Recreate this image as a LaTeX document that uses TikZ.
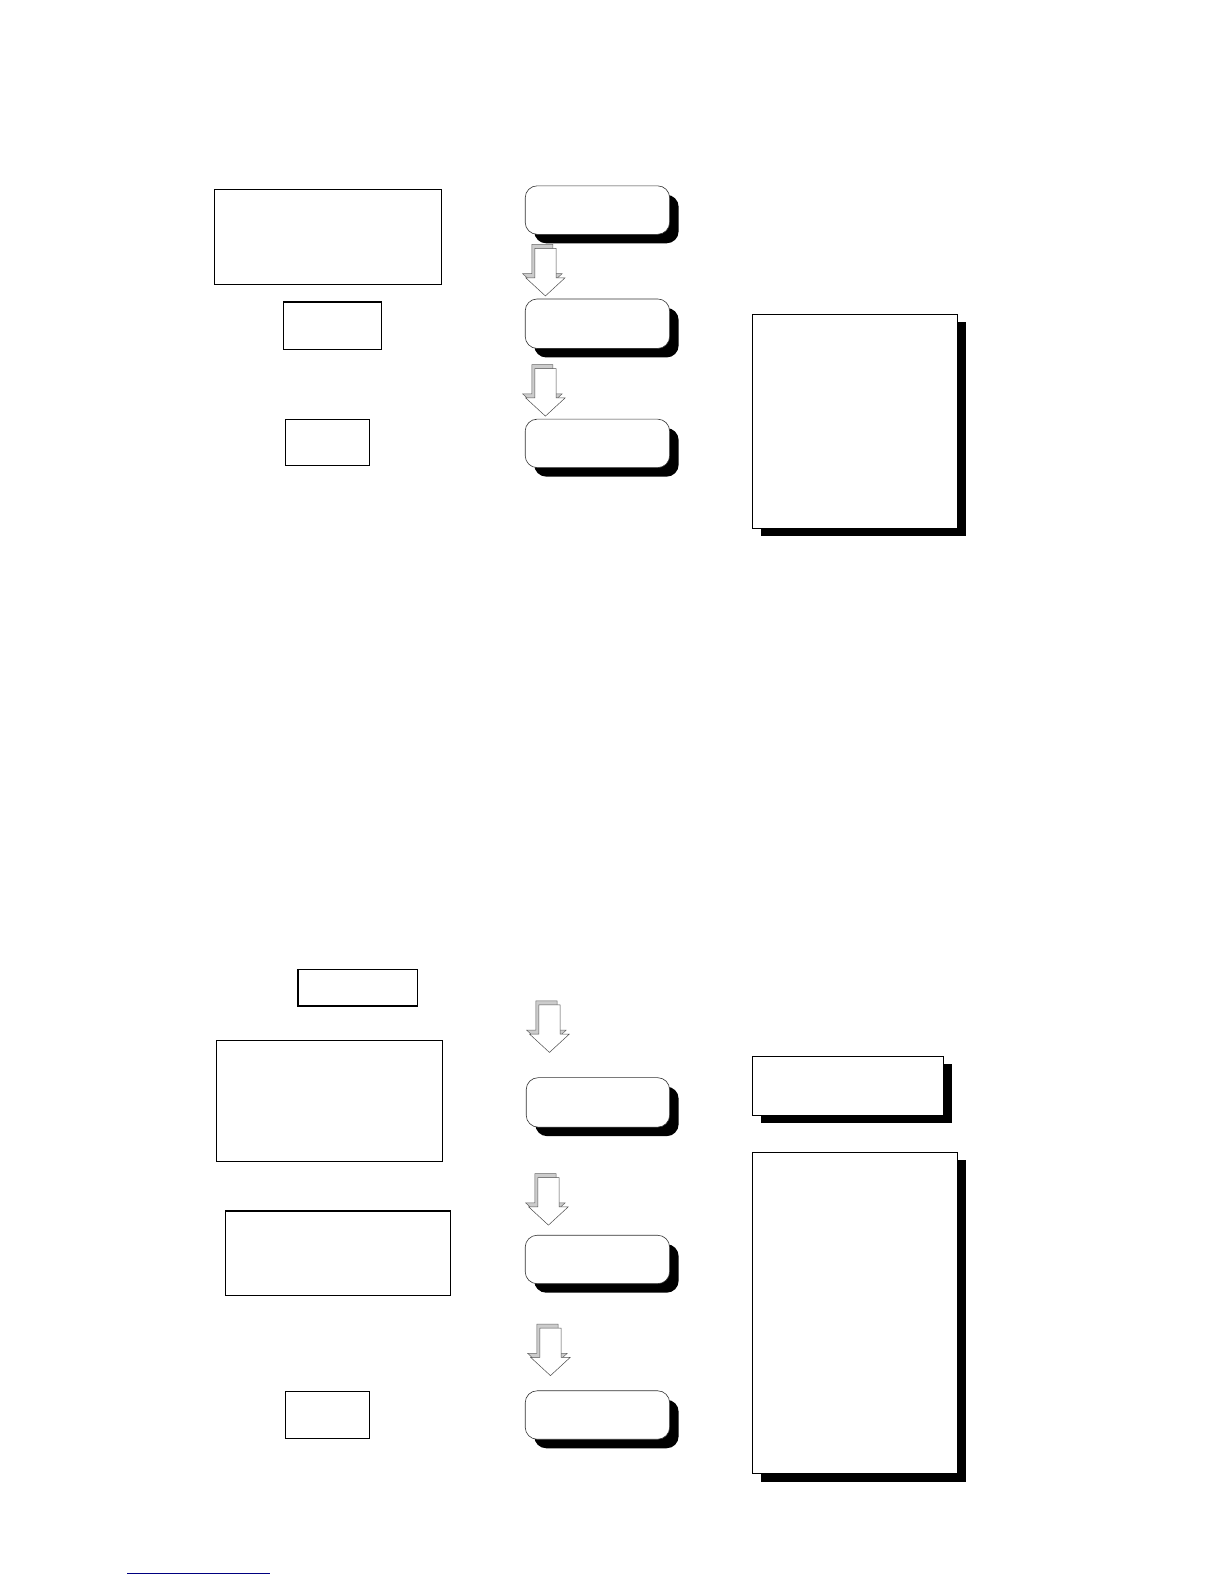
\documentclass[tikz,border=0pt]{standalone}
\usetikzlibrary{shadows,fit}
\tikzset{
  plainbox/.style={draw=black, line width=1.2pt, fill=white, inner sep=0pt, outer sep=0pt},
  shadowbox/.style={plainbox, line width=1pt, drop shadow={shadow xshift=9pt, shadow yshift=-8pt, fill=black, opacity=1}},
  roundbox/.style={draw=black!80, line width=0.6pt, fill=white, rounded corners=12pt, inner sep=0pt, outer sep=0pt,
     drop shadow={shadow xshift=9pt, shadow yshift=-9pt, fill=black, opacity=1}},
  arrowback/.style={draw=black!60, line width=0.5pt, fill=black!20},
  arrowfront/.style={draw=black!70, line width=0.5pt, fill=white},
  linkline/.style={draw=blue!50!black, line width=1pt}
}
\newcommand{\blockarr}[3]{% name, cx, ytop
  \coordinate (#1) at (#2,#3);
  \path[arrowback] ([shift={(-3,-4)}]#1) ++(-10.5,0) -- ++(21,0) -- ++(0,29) -- ++(9,0) -- ++(-19.5,18) -- ++(-19.5,-18) -- ++(9,0) -- cycle;
  \path[arrowfront] (#1) ++(-10.5,0) -- ++(21,0) -- ++(0,29) -- ++(9,0) -- ++(-19.5,18) -- ++(-19.5,-18) -- ++(9,0) -- cycle;
}
\begin{document}
\begin{tikzpicture}[x=1pt,y=-1pt]
\fill[white] (0,0) rectangle (1224,1584);
\begin{scope}[x=1.01pt,y=-1.01pt]
% top section
\node[plainbox, fit={(212,188) (437,282)}] (a) {};
\node[plainbox, fit={(281,299) (378,346)}] (b) {};
\node[plainbox, fit={(283,415) (366,461)}] (c) {};
\node[roundbox, fit={(520,184) (663,232)}] (r1) {};
\node[roundbox, fit={(520,296) (663,345)}] (r2) {};
\node[roundbox, fit={(520,415) (663,463)}] (r3) {};
\blockarr{ar1}{540}{246}
\blockarr{ar2}{540}{365}
\node[shadowbox, fit={(745,311) (948,523)}] (t) {};
% bottom section
\node[plainbox, fit={(295,960) (413,996)}] (d) {};
\node[plainbox, fit={(214,1030) (438,1150)}] (e) {};
\node[plainbox, fit={(223,1199) (446,1283)}] (f) {};
\node[plainbox, fit={(283,1378) (366,1424)}] (g) {};
\blockarr{ar3}{544}{995}
\node[roundbox, fit={(521,1067) (663,1116)}] (r4) {};
\blockarr{ar4}{543}{1166}
\node[roundbox, fit={(520,1223) (663,1271)}] (r5) {};
\blockarr{ar5}{545}{1315}
\node[roundbox, fit={(520,1377) (663,1425)}] (r6) {};
\node[shadowbox, fit={(745,1046) (934,1104)}] (h) {};
\node[shadowbox, fit={(745,1141) (948,1459)}] (i) {};
% link line
\coordinate (l1) at (126,1558);
\coordinate (l2) at (267,1558);
\draw[linkline] (l1) -- (l2);
\end{scope}
\pgfresetboundingbox
\path[use as bounding box] (0,0) rectangle (1224,1584);
\end{tikzpicture}
\end{document}
